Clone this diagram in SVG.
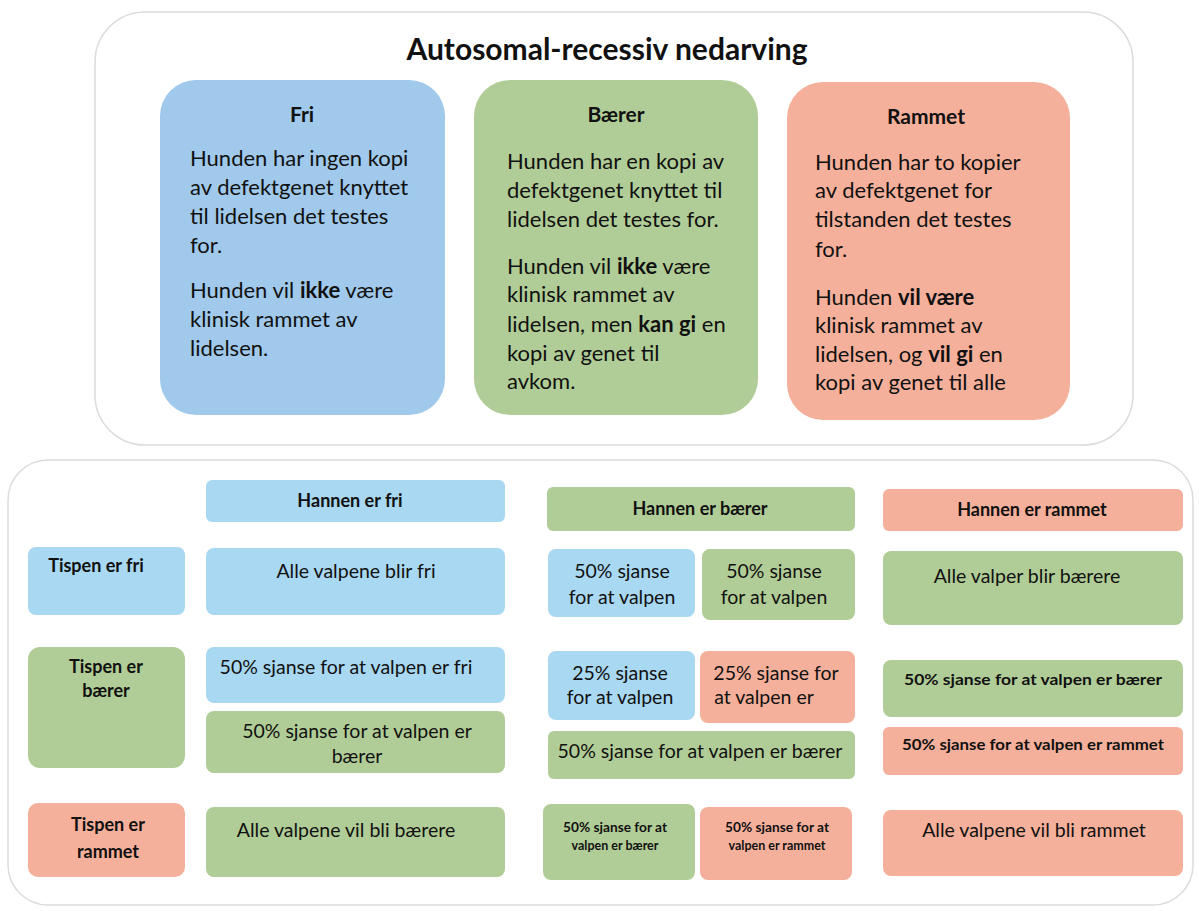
<svg xmlns="http://www.w3.org/2000/svg" width="1199" height="911" viewBox="0 0 1199 911">
<style>
text{font-family:Lato,"Liberation Sans",sans-serif;fill:#111}
.frame{fill:#fff;stroke:#dcdcdc;stroke-width:1.5}
.blue{fill:#a0c9eb}
.lblue{fill:#a9d8f2}
.green{fill:#b1cd97}
.red{fill:#f5b09b}
.ttl{font-size:30px;font-weight:bold;text-anchor:middle}
.bh{font-size:21px;font-weight:bold;text-anchor:middle}
.body{font-size:22px}
.hd{font-size:18px;font-weight:bold;text-anchor:middle}
.cell{font-size:19.5px;text-anchor:middle}
.sm{font-size:15px;font-weight:bold;text-anchor:middle}
.xs{font-size:12.5px;font-weight:bold;text-anchor:middle}
.b{font-weight:bold}
</style>
<rect width="1199" height="911" fill="#fff"/>
<g id="top-frame">
<rect class="frame" x="95" y="12" width="1038" height="433" rx="50"/>
<text class="ttl" x="607" y="60">Autosomal-recessiv nedarving</text>
</g>
<g id="fri">
<rect class="blue" x="160" y="80" width="285" height="335" rx="36"/>
<text class="bh" x="302" y="122">Fri</text>
<text class="body" x="190" y="166">Hunden har ingen kopi</text>
<text class="body" x="190" y="195">av defektgenet knyttet</text>
<text class="body" x="190" y="224">til lidelsen det testes</text>
<text class="body" x="190" y="253">for.</text>
<text class="body" x="190" y="298">Hunden vil <tspan class="b">ikke</tspan> være</text>
<text class="body" x="190" y="327">klinisk rammet av</text>
<text class="body" x="190" y="356">lidelsen.</text>
</g>
<g id="baerer">
<rect class="green" x="474" y="80" width="284" height="335" rx="36"/>
<text class="bh" x="616" y="122">Bærer</text>
<text class="body" x="507" y="169">Hunden har en kopi av</text>
<text class="body" x="507" y="198">defektgenet knyttet til</text>
<text class="body" x="507" y="227">lidelsen det testes for.</text>
<text class="body" x="507" y="274">Hunden vil <tspan class="b">ikke</tspan> være</text>
<text class="body" x="507" y="302">klinisk rammet av</text>
<text class="body" x="507" y="332">lidelsen, men <tspan class="b">kan gi</tspan> en</text>
<text class="body" x="507" y="361">kopi av genet til</text>
<text class="body" x="507" y="389">avkom.</text>
</g>
<g id="rammet">
<rect class="red" x="787" y="82" width="283" height="338" rx="36"/>
<text class="bh" x="926" y="124">Rammet</text>
<text class="body" x="815" y="170">Hunden har to kopier</text>
<text class="body" x="815" y="198">av defektgenet for</text>
<text class="body" x="815" y="227">tilstanden det testes</text>
<text class="body" x="815" y="257">for.</text>
<text class="body" x="815" y="305">Hunden <tspan class="b">vil være</tspan></text>
<text class="body" x="815" y="333">klinisk rammet av</text>
<text class="body" x="815" y="362">lidelsen, og <tspan class="b">vil gi</tspan> en</text>
<text class="body" x="815" y="390">kopi av genet til alle</text>
</g>
<g id="bottom-frame">
<rect class="frame" x="8" y="460" width="1185" height="445" rx="40"/>
</g>
<g id="hannen-fri"><rect class="lblue" x="206" y="480" width="299" height="42" rx="6"/><text class="hd" x="350" y="507">Hannen er fri</text></g>
<g id="hannen-baerer"><rect class="green" x="547" y="487" width="308" height="44" rx="6"/><text class="hd" x="700" y="515">Hannen er bærer</text></g>
<g id="hannen-rammet"><rect class="red" x="883" y="489" width="300" height="42" rx="6"/><text class="hd" x="1032" y="516">Hannen er rammet</text></g>
<g id="tispen-fri"><rect class="lblue" x="28" y="547" width="157" height="68" rx="8"/><text class="hd" x="96" y="572">Tispen er fri</text></g>
<g id="tispen-baerer"><rect class="green" x="28" y="647" width="157" height="121" rx="12"/><text class="hd" x="106" y="673">Tispen er</text><text class="hd" x="106" y="697">bærer</text></g>
<g id="tispen-rammet"><rect class="red" x="28" y="803" width="157" height="74" rx="10"/><text class="hd" x="108" y="831">Tispen er</text><text class="hd" x="108" y="858">rammet</text></g>
<g id="r1c1"><rect class="lblue" x="206" y="548" width="299" height="67" rx="8"/><text class="cell" x="356" y="578">Alle valpene blir fri</text></g>
<g id="r1c2a"><rect class="lblue" x="548" y="549" width="147" height="68" rx="8"/><text class="cell" x="622" y="578">50% sjanse</text><text class="cell" x="622" y="604">for at valpen</text></g>
<g id="r1c2b"><rect class="green" x="702" y="549" width="153" height="71" rx="8"/><text class="cell" x="774" y="578">50% sjanse</text><text class="cell" x="774" y="604">for at valpen</text></g>
<g id="r1c3"><rect class="green" x="883" y="551" width="300" height="74" rx="8"/><text class="cell" x="1027" y="583">Alle valper blir bærere</text></g>
<g id="r2c1a"><rect class="lblue" x="206" y="647" width="299" height="56" rx="8"/><text class="cell" x="346" y="674">50% sjanse for at valpen er fri</text></g>
<g id="r2c1b"><rect class="green" x="206" y="711" width="299" height="62" rx="8"/><text class="cell" x="357" y="738">50% sjanse for at valpen er</text><text class="cell" x="357" y="763">bærer</text></g>
<g id="r2c2a"><rect class="lblue" x="548" y="651" width="147" height="69" rx="8"/><text class="cell" x="620" y="680">25% sjanse</text><text class="cell" x="620" y="704">for at valpen</text></g>
<g id="r2c2b"><rect class="red" x="700" y="651" width="155" height="72" rx="8"/><text class="cell" x="776" y="680">25% sjanse for</text><text class="cell" x="764" y="704">at valpen er</text></g>
<g id="r2c2c"><rect class="green" x="548" y="731" width="307" height="48" rx="6"/><text class="cell" x="700" y="758">50% sjanse for at valpen er bærer</text></g>
<g id="r2c3a"><rect class="green" x="883" y="660" width="300" height="57" rx="8"/><text class="sm" x="1033" y="685" textLength="258" lengthAdjust="spacingAndGlyphs">50% sjanse for at valpen er bærer</text></g>
<g id="r2c3b"><rect class="red" x="883" y="727" width="300" height="48" rx="6"/><text class="sm" x="1033" y="750" textLength="262" lengthAdjust="spacingAndGlyphs">50% sjanse for at valpen er rammet</text></g>
<g id="r3c1"><rect class="green" x="206" y="807" width="299" height="70" rx="8"/><text class="cell" x="346" y="837">Alle valpene vil bli bærere</text></g>
<g id="r3c2a"><rect class="green" x="543" y="804" width="152" height="76" rx="8"/><text class="xs" x="615" y="832" textLength="104" lengthAdjust="spacingAndGlyphs">50% sjanse for at</text><text class="xs" x="615" y="850">valpen er bærer</text></g>
<g id="r3c2b"><rect class="red" x="700" y="807" width="152" height="73" rx="8"/><text class="xs" x="777" y="832" textLength="104" lengthAdjust="spacingAndGlyphs">50% sjanse for at</text><text class="xs" x="777" y="850">valpen er rammet</text></g>
<g id="r3c3"><rect class="red" x="883" y="810" width="300" height="66" rx="8"/><text class="cell" x="1034" y="837">Alle valpene vil bli rammet</text></g>
</svg>
